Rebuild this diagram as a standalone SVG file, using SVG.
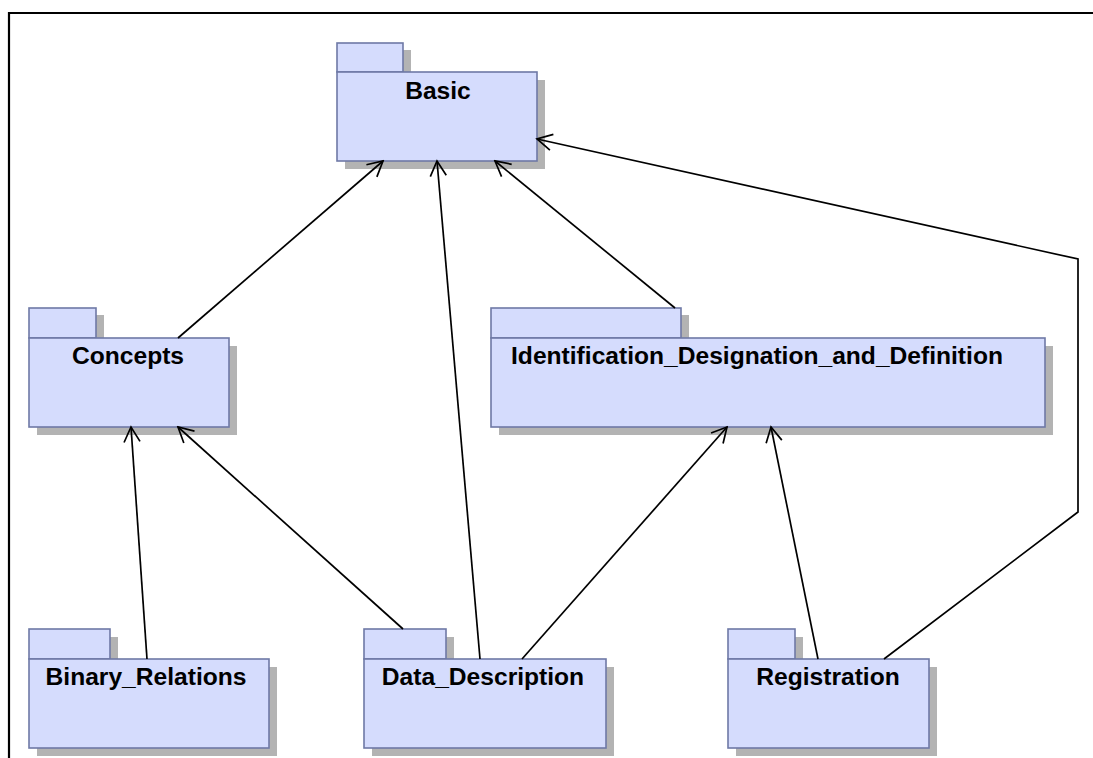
<svg xmlns="http://www.w3.org/2000/svg" width="1093" height="758" viewBox="0 0 1093 758">
<style>
.sh{fill:#b3b3b3;stroke:none}
.pk{fill:#d5dcfd;stroke:#6e79a6;stroke-width:1.6}
.lb{font-family:"Liberation Sans",Arial,sans-serif;font-weight:bold;font-size:24.6px;fill:#000;text-anchor:middle}
.cn{fill:none;stroke:#000;stroke-width:1.7;marker-end:url(#ah)}
</style>
<defs>
<marker id="ah" markerUnits="userSpaceOnUse" viewBox="0 0 18 18" markerWidth="18" markerHeight="18" refX="16" refY="9" orient="auto">
<path d="M1,1 L16,9 L1,17" fill="none" stroke="#000" stroke-width="1.7"/>
</marker>
</defs>
<rect width="1093" height="758" fill="#fff"/>
<path d="M9,758 L9,13 L1093,13" fill="none" stroke="#000" stroke-width="2.2"/>

<g id="Basic">
<rect class="sh" x="345" y="50" width="66" height="30"/>
<rect class="sh" x="345" y="80" width="200" height="89"/>
<rect class="pk" x="337" y="43" width="66" height="29"/>
<rect class="pk" x="337" y="72" width="200" height="89"/>
<text class="lb" x="438" y="99">Basic</text>
</g>

<g id="Concepts">
<rect class="sh" x="37" y="315" width="67" height="31"/>
<rect class="sh" x="37" y="346" width="200" height="89"/>
<rect class="pk" x="29" y="308" width="67" height="30"/>
<rect class="pk" x="29" y="338" width="200" height="89"/>
<text class="lb" x="128" y="364">Concepts</text>
</g>

<g id="Identification_Designation_and_Definition">
<rect class="sh" x="499" y="315" width="190" height="31"/>
<rect class="sh" x="499" y="346" width="554" height="89"/>
<rect class="pk" x="491" y="308" width="190" height="30"/>
<rect class="pk" x="491" y="338" width="554" height="89"/>
<text class="lb" x="757" y="364">Identification_Designation_and_Definition</text>
</g>

<g id="Binary_Relations">
<rect class="sh" x="37" y="637" width="81" height="30"/>
<rect class="sh" x="37" y="667" width="240" height="89"/>
<rect class="pk" x="29" y="629" width="81" height="30"/>
<rect class="pk" x="29" y="659" width="240" height="89"/>
<text class="lb" x="146" y="685">Binary_Relations</text>
</g>

<g id="Data_Description">
<rect class="sh" x="372" y="637" width="82" height="30"/>
<rect class="sh" x="372" y="667" width="242" height="89"/>
<rect class="pk" x="364" y="629" width="82" height="30"/>
<rect class="pk" x="364" y="659" width="242" height="89"/>
<text class="lb" x="483" y="685">Data_Description</text>
</g>

<g id="Registration">
<rect class="sh" x="736" y="637" width="67" height="30"/>
<rect class="sh" x="736" y="667" width="201" height="89"/>
<rect class="pk" x="728" y="629" width="67" height="30"/>
<rect class="pk" x="728" y="659" width="201" height="89"/>
<text class="lb" x="828" y="685">Registration</text>
</g>

<g id="connectors">
<path class="cn" d="M178,338 L383,161"/>
<path class="cn" d="M480,659 L437,161"/>
<path class="cn" d="M675,308 L495,161"/>
<path class="cn" d="M884,659 L1078,512 L1078,259 L537,139"/>
<path class="cn" d="M147,659 L131,427"/>
<path class="cn" d="M403,629 L178,427"/>
<path class="cn" d="M522,659 L727,427"/>
<path class="cn" d="M818,659 L771,427"/>
</g>
</svg>
